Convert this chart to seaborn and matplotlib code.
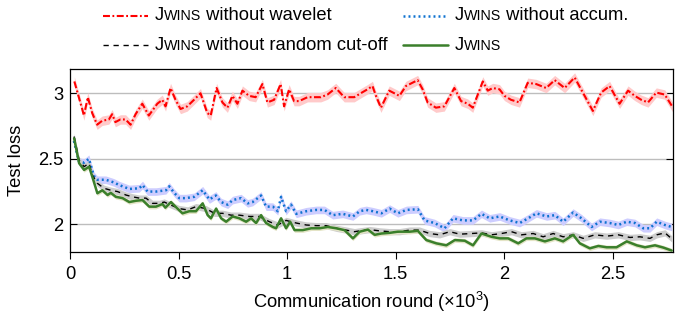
import matplotlib
matplotlib.use("Agg")
import numpy as np
import pandas as pd
import seaborn as sns
import matplotlib.pyplot as plt
from matplotlib.offsetbox import HPacker, TextArea, DrawingArea, AnchoredOffsetbox
from matplotlib.lines import Line2D
from matplotlib.ticker import FuncFormatter

# ---------------- data (communication round in thousands, test loss) ----------------
wavelet_x = [0.020, 0.056, 0.064, 0.082, 0.102, 0.125, 0.148, 0.179, 0.194, 0.209,
             0.232, 0.256, 0.279, 0.302, 0.333, 0.363, 0.402, 0.425, 0.440, 0.463,
             0.486, 0.509, 0.540, 0.571, 0.601, 0.632, 0.648, 0.675, 0.702, 0.725,
             0.748, 0.771, 0.794, 0.825, 0.855, 0.886, 0.909, 0.940, 0.970, 0.986,
             1.009, 1.032, 1.055, 1.094, 1.125, 1.155, 1.186, 1.224, 1.263, 1.309,
             1.339, 1.370, 1.393, 1.409, 1.432, 1.470, 1.517, 1.547, 1.601, 1.624,
             1.647, 1.685, 1.724, 1.770, 1.801, 1.832, 1.855, 1.901, 1.924, 1.947,
             1.978, 2.001, 2.031, 2.070, 2.108, 2.147, 2.193, 2.232, 2.278, 2.324,
             2.362, 2.408, 2.446, 2.485, 2.531, 2.570, 2.601, 2.631, 2.662, 2.700,
             2.739, 2.777]
wavelet_loss = [3.09, 2.88, 2.83, 2.97, 2.85, 2.76, 2.79, 2.80, 2.84, 2.78,
                2.80, 2.80, 2.76, 2.84, 2.92, 2.83, 2.92, 2.95, 2.90, 3.04,
                2.95, 2.88, 2.90, 2.95, 3.00, 2.85, 2.83, 3.04, 2.93, 2.89,
                2.98, 2.92, 3.02, 2.98, 2.97, 3.07, 2.93, 2.95, 3.07, 2.90,
                3.03, 2.94, 2.94, 2.97, 2.97, 2.97, 2.99, 3.04, 2.97, 2.97,
                3.00, 3.03, 3.055, 2.98, 2.89, 3.02, 2.98, 3.055, 3.10, 3.03,
                2.93, 2.89, 2.90, 3.04, 2.94, 2.92, 2.89, 3.09, 3.02, 3.04,
                3.03, 2.98, 2.95, 2.93, 3.08, 3.07, 3.04, 3.10, 3.04, 3.12,
                3.005, 2.865, 3.005, 3.055, 2.92, 3.02, 2.98, 2.95, 2.93, 3.005,
                2.99, 2.89]

accum_x = [0.018, 0.041, 0.064, 0.087, 0.110, 0.126, 0.165, 0.202, 0.226, 0.273,
           0.319, 0.334, 0.357, 0.396, 0.442, 0.457, 0.480, 0.503, 0.534, 0.572,
           0.611, 0.642, 0.672, 0.696, 0.726, 0.749, 0.788, 0.818, 0.841, 0.880,
           0.903, 0.934, 0.957, 0.972, 0.995, 1.018, 1.042, 1.088, 1.134, 1.172,
           1.210, 1.256, 1.303, 1.334, 1.364, 1.395, 1.434, 1.472, 1.510, 1.549,
           1.602, 1.633, 1.679, 1.725, 1.764, 1.810, 1.856, 1.895, 1.933, 1.979,
           2.025, 2.071, 2.110, 2.148, 2.195, 2.233, 2.271, 2.317, 2.356, 2.402,
           2.440, 2.486, 2.525, 2.564, 2.602, 2.640, 2.671, 2.702, 2.740, 2.771]
accum_loss = [2.636, 2.48, 2.47, 2.50, 2.37, 2.34, 2.34, 2.32, 2.30, 2.27,
              2.275, 2.30, 2.25, 2.25, 2.26, 2.29, 2.24, 2.20, 2.20, 2.21,
              2.26, 2.19, 2.22, 2.17, 2.15, 2.185, 2.20, 2.16, 2.17, 2.22,
              2.135, 2.135, 2.10, 2.21, 2.10, 2.15, 2.08, 2.10, 2.11, 2.11,
              2.07, 2.08, 2.06, 2.10, 2.11, 2.10, 2.084, 2.12, 2.084, 2.11,
              2.115, 2.03, 2.01, 1.97, 2.046, 2.03, 2.03, 2.08, 2.046, 2.06,
              2.03, 2.01, 2.046, 2.084, 2.06, 2.07, 2.02, 2.09, 2.046, 1.98,
              2.02, 2.01, 1.995, 2.02, 2.01, 1.97, 1.97, 2.02, 1.995, 1.98]

cutoff_x = [0.019, 0.042, 0.065, 0.088, 0.103, 0.126, 0.157, 0.188, 0.219, 0.257,
            0.288, 0.319, 0.350, 0.380, 0.411, 0.434, 0.465, 0.503, 0.542, 0.580,
            0.626, 0.665, 0.703, 0.742, 0.780, 0.826, 0.872, 0.918, 0.957, 0.995,
            1.042, 1.088, 1.134, 1.180, 1.226, 1.272, 1.310, 1.334, 1.380, 1.426,
            1.472, 1.518, 1.564, 1.610, 1.656, 1.702, 1.749, 1.795, 1.849, 1.895,
            1.941, 1.987, 2.033, 2.079, 2.133, 2.179, 2.225, 2.271, 2.317, 2.363,
            2.417, 2.471, 2.525, 2.579, 2.625, 2.671, 2.702, 2.740, 2.771]
cutoff_loss = [2.67, 2.49, 2.44, 2.466, 2.376, 2.313, 2.275, 2.26, 2.25, 2.224,
               2.21, 2.20, 2.20, 2.16, 2.16, 2.17, 2.147, 2.12, 2.11, 2.135,
               2.12, 2.084, 2.084, 2.07, 2.07, 2.06, 2.06, 2.02, 1.995, 2.03,
               2.01, 1.995, 1.99, 1.99, 1.97, 1.956, 1.944, 1.95, 1.96, 1.95,
               1.944, 1.944, 1.956, 1.956, 1.93, 1.92, 1.944, 1.925, 1.93, 1.935,
               1.92, 1.93, 1.944, 1.92, 1.93, 1.905, 1.93, 1.905, 1.92, 1.893,
               1.92, 1.91, 1.92, 1.90, 1.905, 1.893, 1.92, 1.935, 1.89]

jwins_x = [0.019, 0.042, 0.065, 0.088, 0.107, 0.126, 0.149, 0.173, 0.188, 0.211,
           0.242, 0.273, 0.304, 0.334, 0.365, 0.396, 0.426, 0.439, 0.465, 0.495,
           0.518, 0.549, 0.580, 0.611, 0.634, 0.649, 0.673, 0.696, 0.719, 0.749,
           0.780, 0.811, 0.834, 0.857, 0.880, 0.903, 0.934, 0.949, 0.972, 0.995,
           1.014, 1.034, 1.072, 1.111, 1.149, 1.187, 1.226, 1.264, 1.303, 1.334,
           1.372, 1.403, 1.434, 1.472, 1.510, 1.564, 1.602, 1.641, 1.687, 1.733,
           1.772, 1.818, 1.856, 1.895, 1.941, 1.979, 2.018, 2.064, 2.102, 2.141,
           2.187, 2.233, 2.271, 2.317, 2.348, 2.394, 2.433, 2.471, 2.517, 2.564,
           2.610, 2.648, 2.694, 2.732, 2.771]
jwins_loss = [2.656, 2.466, 2.415, 2.44, 2.34, 2.237, 2.26, 2.224, 2.24, 2.21,
              2.20, 2.17, 2.18, 2.185, 2.135, 2.135, 2.155, 2.127, 2.17, 2.12,
              2.084, 2.10, 2.10, 2.16, 2.07, 2.046, 2.12, 2.046, 2.02, 2.06,
              2.046, 2.02, 2.046, 2.01, 2.07, 2.01, 1.98, 1.97, 2.046, 1.97,
              2.02, 1.956, 1.956, 1.97, 1.97, 1.98, 1.97, 1.956, 1.893, 1.944,
              1.96, 1.92, 1.93, 1.935, 1.944, 1.944, 1.95, 1.88, 1.855, 1.84,
              1.88, 1.875, 1.84, 1.93, 1.905, 1.893, 1.893, 1.855, 1.893, 1.893,
              1.87, 1.893, 1.87, 1.92, 1.855, 1.817, 1.835, 1.825, 1.825, 1.87,
              1.84, 1.825, 1.84, 1.823, 1.80]

# half-width of the shaded spread for each method
wavelet_spread = 0.036
accum_spread = 0.029
cutoff_spread = 0.024
jwins_spread = 0.017

x_ticks = [0, 0.5, 1, 1.5, 2, 2.5]
y_ticks = [2, 2.5, 3]

# ---------------- style ----------------
sns.set_theme(style="white")
plt.rcParams["font.family"] = ["Liberation Sans", "DejaVu Sans"]
plt.rcParams["mathtext.fontset"] = "custom"
plt.rcParams["mathtext.rm"] = "Liberation Sans"
plt.rcParams["mathtext.it"] = "Liberation Sans:italic"
plt.rcParams["mathtext.bf"] = "Liberation Sans:bold"
plt.rcParams["lines.scale_dashes"] = False
for k in ["text.color", "axes.labelcolor", "xtick.color", "ytick.color", "axes.edgecolor"]:
    plt.rcParams[k] = "black"

FS = 13.2
W, H = 675, 314
fig = plt.figure(figsize=(W / 100, H / 100), dpi=100)
ax = fig.add_axes([70 / W, 1 - 252 / H, (673 - 70) / W, (252 - 69) / H])

red_ls = (0, (5.0, 1.8, 1.3, 1.8))
blue_ls = (0, (1.4, 2.2))
black_ls = (0, (3.8, 3.4))

series = [
    ("wavelet", wavelet_x, wavelet_loss, wavelet_spread, "#ff0000", "#ffcaca", red_ls, 1.5),
    ("accum", accum_x, accum_loss, accum_spread, "#0e72d0", "#cdcdff", blue_ls, 1.8),
    ("cutoff", cutoff_x, cutoff_loss, cutoff_spread, "#000000", "#cdcdcd", black_ls, 1.0),
    ("jwins", jwins_x, jwins_loss, jwins_spread, "#3a7f2b", "#e4e4c6", "-", 1.8),
]

for name, xs, ys, spread, color, band, ls, lw in series:
    xs_a = np.asarray(xs)
    ys_a = np.asarray(ys)
    ax.fill_between(xs_a, ys_a - spread, ys_a + spread, color=band, lw=0, zorder=1)

for name, xs, ys, spread, color, band, ls, lw in series:
    df = pd.DataFrame({"round": xs, "loss": ys})
    sns.lineplot(data=df, x="round", y="loss", ax=ax, color=color, linestyle=ls,
                 lw=lw, errorbar=None, legend=False, zorder=3)

ax.set_xlim(0, 2.777)
ax.set_ylim(1.789, 3.185)
ax.set_xticks(x_ticks)
ax.set_yticks(y_ticks)
fmt = FuncFormatter(lambda v, p: "%g" % v)
ax.xaxis.set_major_formatter(fmt)
ax.yaxis.set_major_formatter(fmt)
ax.tick_params(axis="x", direction="out", length=5, width=0.8, pad=5,
               labelsize=FS, bottom=True, top=False)
ax.tick_params(axis="y", direction="in", length=5, width=0.8, pad=5,
               labelsize=FS, left=True, right=True)
ax.yaxis.grid(True, color="#bdbdbd", lw=1.0)
ax.xaxis.grid(False)
ax.set_axisbelow(True)
for s in ax.spines.values():
    s.set_visible(True)
    s.set_color("black")
    s.set_linewidth(0.9)

ax.set_xlabel(r"Communication round ($\times10^3$)", fontsize=FS, labelpad=5)
ax.set_ylabel("Test loss", fontsize=FS, labelpad=9)

# ---------------- legend (small-caps name) ----------------
def legend_entry(x_px, y_px, color, ls, lw, rest):
    da = DrawingArea(32.4, 10, 0, 0)
    da.add_artist(Line2D([0, 32.4], [5, 5], color=color, linestyle=ls, lw=lw))
    parts = [TextArea("J", textprops=dict(fontsize=FS, color="black")),
             TextArea("WINS", textprops=dict(fontsize=FS * 0.78, color="black"))]
    if rest:
        parts.append(TextArea(rest, textprops=dict(fontsize=FS, color="black")))
    txt = HPacker(children=parts, align="baseline", pad=0, sep=0)
    box = HPacker(children=[da, txt], align="center", pad=0, sep=5)
    ab = AnchoredOffsetbox(loc="center left", child=box, pad=0, borderpad=0,
                           frameon=False, bbox_to_anchor=(x_px / W, 1 - y_px / H),
                           bbox_transform=fig.transFigure)
    fig.add_artist(ab)

legend_entry(103, 16, "#ff0000", red_ls, 1.5, " without wavelet")
legend_entry(403, 16, "#0e72d0", blue_ls, 1.8, " without accum.")
legend_entry(103, 45, "#000000", black_ls, 1.0, " without random cut-off")
legend_entry(403, 45, "#3a7f2b", "-", 1.8, "")

fig.savefig("out.png", dpi=100)
